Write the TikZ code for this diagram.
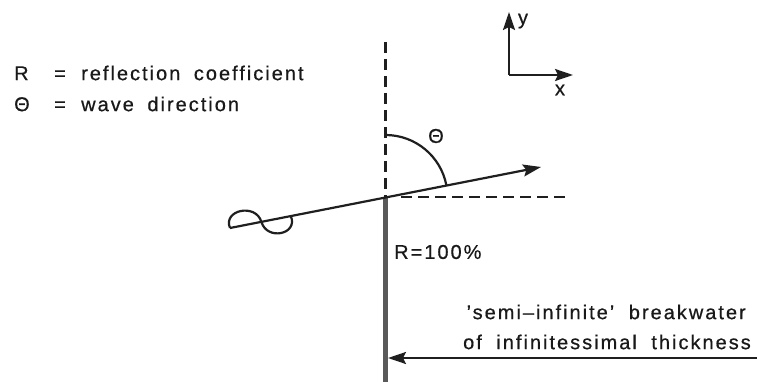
\documentclass[tikz,border=0pt]{standalone}
\usepackage{fontspec}
\setmainfont{Liberation Sans}[LetterSpace=10,FakeBold=0.6]
\usetikzlibrary{arrows.meta}
\begin{document}
\begin{tikzpicture}[x=1pt,y=-1pt,
  line/.style={line width=2.2pt,draw=black!88},
  dashline/.style={line width=2.2pt,draw=black!88,dash pattern=on 11pt off 6pt},
  arr/.style={-{Stealth[length=18pt,width=12pt,inset=3pt]}},
  lbl/.style={font=\fontsize{20}{22}\selectfont,text=black!90,inner sep=0pt},
]
\useasboundingbox (0,0) rectangle (757,382);
% key points
\coordinate (O) at (385.5,197);
\coordinate (Top) at (385.5,42);
\coordinate (Bot) at (385.5,382);
\coordinate (W) at (230,228);
\coordinate (T) at (541,167);
\coordinate (Hs) at (401,197);
\coordinate (He) at (570,197);
% breakwater
\draw[line width=5pt,draw=black!65] (O) -- (Bot);
% dashed normal
\draw[dashline] (Top) -- (O);
% dashed horizontal
\draw[dashline] (Hs) -- (He);
% angle arc
\draw[line] (O) ++(0,-62) arc[start angle=-90,end angle=-11,radius=62];
\node[lbl] (theta) at (436,136) {Θ};
% wave ray
\draw[line,arr] (W) -- (T);
% wave symbol
\begin{scope}[shift={(W)},rotate=10.95]
\draw[line] (0,0) .. controls (-4,-19) and (30,-20) .. (32,0)
            .. controls (34,20) and (66,19) .. (62,0);
\end{scope}
% reflection label
\node[lbl,anchor=west] (R100) at (394,252) {R=100\%};
% axes
\coordinate (Ax) at (509,75);
\coordinate (Ay) at (509,12);
\coordinate (Axx) at (573,75);
\draw[line,arr] (Ax) -- (Ay);
\draw[line,arr] (Ax) -- (Axx);
\node[lbl] (ylab) at (523,21) {y};
\node[lbl] (xlab) at (560,90) {x};
% legend
\node[lbl,anchor=west] (leg1) at (14,73) {\makebox[40pt][l]{R}\makebox[27pt][l]{=}reflection\hspace{6pt} coefficient};
\node[lbl,anchor=west] (leg2) at (14,104) {\makebox[40pt][l]{Θ}\makebox[27pt][l]{=}wave\hspace{6pt} direction};
% breakwater label
\node[lbl,anchor=east] (bw1) at (746,312) {'semi--infinite'\hspace{7pt} breakwater};
\node[lbl,anchor=east] (bw2) at (751,342) {of\hspace{7pt} infinitessimal\hspace{7pt} thickness};
\coordinate (Ar) at (757,358);
\coordinate (Al) at (388,358);
\draw[line,arr] (Ar) -- (Al);
\end{tikzpicture}
\end{document}
